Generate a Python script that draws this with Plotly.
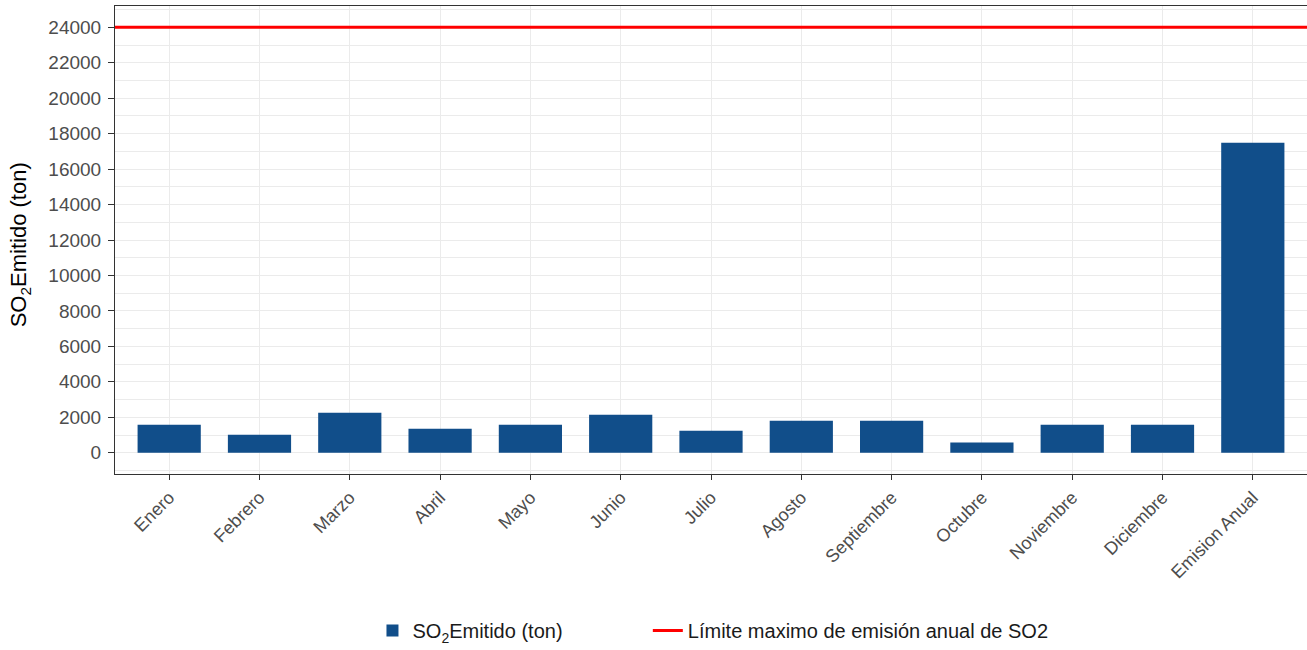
import plotly.graph_objects as go

# Datos
meses = ["Enero", "Febrero", "Marzo", "Abril", "Mayo", "Junio", "Julio",
         "Agosto", "Septiembre", "Octubre", "Noviembre", "Diciembre", "Emision Anual"]
so2_emitido = [1580, 1010, 2250, 1350, 1580, 2140, 1240,
               1800, 1800, 570, 1580, 1580, 17480]
limite_anual = 24000
ticks_y = list(range(0, 24001, 2000))

fig = go.Figure()

fig.add_trace(go.Bar(
    x=meses,
    y=so2_emitido,
    name="SO<sub>2</sub>Emitido (ton)",
    marker=dict(color="#114E8A", line=dict(width=0)),
    width=0.7,
    legend="legend",
))

# Linea del limite anual
fig.add_hline(
    y=limite_anual,
    line=dict(color="#FF0000", width=3),
    layer="above",
    showlegend=True,
    name="Límite maximo de emisión anual de SO2",
    legend="legend2",
)

leyenda = dict(
    orientation="h",
    xanchor="left",
    y=-0.335, yanchor="middle",
    font=dict(size=20, color="#1A1A1A"),
    bgcolor="rgba(0,0,0,0)",
)

fig.update_layout(
    width=1307,
    height=650,
    margin=dict(l=115, r=0, t=6, b=175),
    plot_bgcolor="white",
    paper_bgcolor="white",
    font=dict(family="Liberation Sans, Arial", size=18, color="#4D4D4D"),
    legend=dict(leyenda, x=0.216),
    legend2=dict(leyenda, x=0.447),
    showlegend=True,
)

# titulo del eje y como anotacion para acercarlo al borde
fig.add_annotation(
    text="SO<sub>2</sub>Emitido (ton)",
    xref="paper", yref="paper",
    x=-0.08, y=0.49,
    xanchor="center", yanchor="middle",
    textangle=-90,
    showarrow=False,
    font=dict(size=22, color="#000000"),
)

fig.update_xaxes(
    range=[-0.6, 12.6],
    tickangle=-45,
    ticks="outside", ticklen=5, tickcolor="#333333",
    showgrid=True, gridcolor="#EBEBEB", gridwidth=1.2,
    showline=True, linecolor="#333333", linewidth=1, mirror=True,
    tickfont=dict(size=18, color="#4D4D4D"),
)

fig.update_yaxes(
    range=[-1200, 25200],
    tickvals=ticks_y,
    tickformat="d",
    ticks="outside", ticklen=6, tickcolor="#333333",
    ticklabelstandoff=3,
    showgrid=True, gridcolor="#EBEBEB", gridwidth=1.2,
    minor=dict(dtick=1000, showgrid=True, gridcolor="#EBEBEB", gridwidth=0.6),
    zeroline=False,
    showline=True, linecolor="#333333", linewidth=1, mirror=True,
    tickfont=dict(size=19, color="#4D4D4D"),
)

fig.write_html("out.html", config={"displayModeBar": False},
               post_script="document.body.style.margin='0';")
